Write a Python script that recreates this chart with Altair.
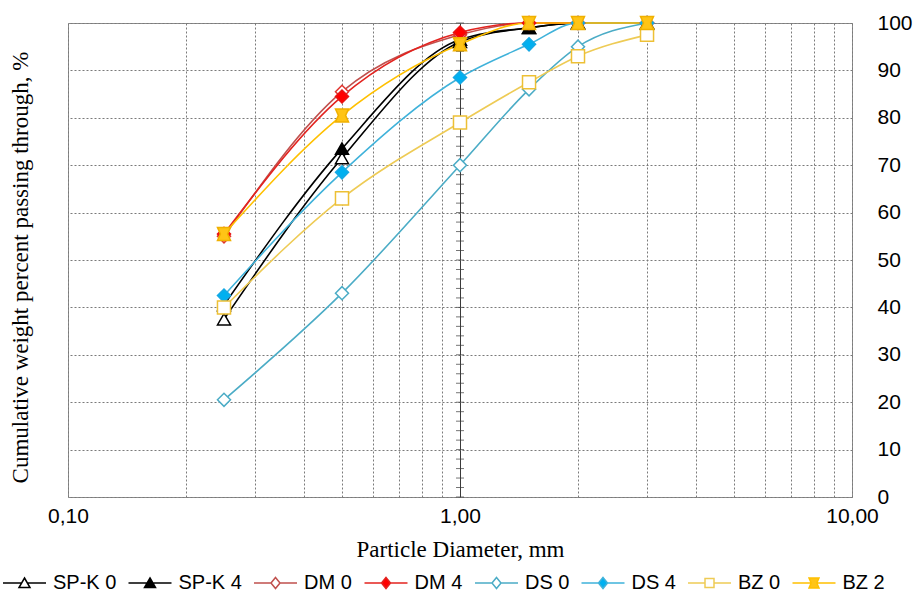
import altair as alt
import pandas as pd

# ---------------- data ----------------
diameters = [0.25, 0.5, 1.0, 1.5, 2.0, 3.0]
series_names = ["SP-K 0", "SP-K 4", "DM 0", "DM 4", "DS 0", "DS 4", "BZ 0", "BZ 2"]
spk0 = [37.5, 71.5, 96.0, 99.0, 100.0, 100.0]
spk4 = [40.5, 73.5, 96.5, 99.0, 100.0, 100.0]
dm0 = [55.0, 85.5, 97.5, 100.0, 100.0, 100.0]
dm4 = [55.5, 84.5, 98.0, 100.0, 100.0, 100.0]
ds0 = [20.5, 43.0, 70.0, 86.0, 95.0, 100.0]
ds4 = [42.5, 68.5, 88.5, 95.5, 100.0, 100.0]
bz0 = [40.0, 63.0, 79.0, 87.5, 93.0, 97.5]
bz2 = [55.5, 80.5, 95.5, 100.0, 100.0, 100.0]
series_values = [spk0, spk4, dm0, dm4, ds0, ds4, bz0, bz2]

x_label_values = [0.1, 1.0, 10.0]
x_grid_values = [m * 10.0 ** e for e in (-1, 0) for m in range(1, 10)] + [10.0]
y_values = list(range(0, 101, 10))
y_minor_ticks = list(range(0, 101, 2))

# ---------------- styles ----------------
line_colors = ["#000000", "#000000", "#C0504D", "#E3231F", "#4BACC6", "#3FB2DA", "#EECB55", "#FFC000"]
marker_strokes = ["#000000", "#000000", "#E0352F", "#E81313", "#4BACC6", "#15A9E5", "#EDC035", "#F0B000"]
marker_fills = ["#FFFFFF", "#000000", "#FFFFFF", "#FF0000", "#FFFFFF", "#00B0F0", "#FFFFFF", "#FFC416"]
bz2_path = "M-1,-1L1,-1L0.55,0L1,1L-1,1L-0.55,0Z"
marker_shapes = ["triangle-up", "triangle-up", "diamond", "diamond", "diamond", "diamond", "square", bz2_path]

tri = "M0,-0.5L0.55,0.45L-0.55,0.45Z"
dia = "M0,-0.55L0.45,0L0,0.55L-0.45,0Z"
sq = "M-0.45,-0.45H0.45V0.45H-0.45Z"
bzl = "M-0.5,-0.5L0.5,-0.5L0.28,0L0.5,0.5L-0.5,0.5L-0.28,0Z"
def with_line(marker, gap):
    return f"M-2.15,0H-{gap}M{gap},0H2.15" + marker
legend_shapes = [with_line(tri, 0.29), with_line(tri, 0.29), with_line(dia, 0.45), with_line(dia, 0.45),
                 with_line(dia, 0.45), with_line(dia, 0.45), with_line(sq, 0.45), with_line(bzl, 0.3)]

rows = []
for name, vals in zip(series_names, series_values):
    for d, v in zip(diameters, vals):
        rows.append({"series": name, "d": d, "p": v})
df = pd.DataFrame(rows)
ticks_df = pd.DataFrame({"d": [1.0] * len(y_minor_ticks), "p": y_minor_ticks})

label_test = " || ".join(f"abs(datum.value - {v}) < 1e-9" for v in x_label_values)

x_axis = alt.Axis(
    values=x_grid_values,
    labelExpr=f"({label_test}) ? replace(format(datum.value, '.2f'), '.', ',') : ''",
    title="Particle Diameter, mm",
    ticks=False, domain=False, grid=True,
    gridColor={"condition": {"test": "abs(datum.value - 1) < 1e-9", "value": "#3a3a3a"}, "value": "#7a7a7a"},
    gridDash={"condition": {"test": "abs(datum.value - 1) < 1e-9", "value": []}, "value": [2, 2]},
    labelPadding=8, titlePadding=12, labelFlush=False, labelOverlap=False,
)
y_axis = alt.Axis(
    orient="right", values=y_values, grid=True, gridColor="#7a7a7a", gridDash=[2, 2],
    ticks=False, domain=False, labelPadding=25, labelAlign="left",
    title="Cumulative weight percent passing through, %",
    titleAngle=270, titleX=-832, titleY=244, titleAlign="center", titleBaseline="middle",
)
x_enc = alt.X("d:Q", scale=alt.Scale(type="log", domain=[0.1, 10]), axis=x_axis)
y_enc = alt.Y("p:Q", scale=alt.Scale(domain=[0, 100]), axis=y_axis)

tick_layer = alt.Chart(ticks_df).mark_tick(orient="horizontal", size=8, thickness=1, color="#3a3a3a").encode(
    x=x_enc, y=y_enc)

layers = [tick_layer]
for i, name in enumerate(series_names):
    base = alt.Chart(df).transform_filter(alt.datum.series == name)
    layers.append(base.mark_line(interpolate="monotone", strokeWidth=1.6).encode(
        x=x_enc, y=y_enc, stroke=alt.value(line_colors[i])))
for i, name in enumerate(series_names):
    base = alt.Chart(df).transform_filter(alt.datum.series == name)
    layers.append(base.mark_point(filled=True, opacity=1, size=170, strokeWidth=1.5).encode(
        x=x_enc, y=y_enc,
        shape=alt.value(marker_shapes[i]),
        fill=alt.value(marker_fills[i]),
        stroke=alt.value(marker_strokes[i]),
    ))

legend = alt.Legend(
    orient="none", legendX=-54.5, legendY=549, direction="horizontal", columns=8, title=None,
    symbolSize=400, symbolStrokeWidth=1.5, labelFont="Liberation Sans", labelFontSize=20,
    labelColor="black", labelOffset=17.5, columnPadding=8.5, padding=0,
)
legend_layer = alt.Chart(df).transform_filter("datum.p < 0").mark_point(filled=True, opacity=1).encode(
    x=x_enc, y=y_enc,
    stroke=alt.Stroke("series:N", scale=alt.Scale(domain=series_names, range=line_colors), legend=legend),
    fill=alt.Fill("series:N", scale=alt.Scale(domain=series_names, range=marker_fills), legend=legend),
    shape=alt.Shape("series:N", scale=alt.Scale(domain=series_names, range=legend_shapes), legend=legend),
)
layers.append(legend_layer)

chart = alt.layer(*layers).properties(
    width=784, height=474,
    autosize=alt.AutoSizeParams(type="none"),
    padding={"left": 68, "top": 23, "right": 65, "bottom": 106},
).configure_view(stroke="#8c8c8c", strokeWidth=1).configure_axis(
    labelFont="Liberation Sans", labelFontSize=21, labelColor="black",
    titleFont="Liberation Serif", titleFontSize=23, titleFontWeight="normal", titleColor="black",
)

chart.save("out.html", embed_options={"renderer": "svg", "actions": False})
